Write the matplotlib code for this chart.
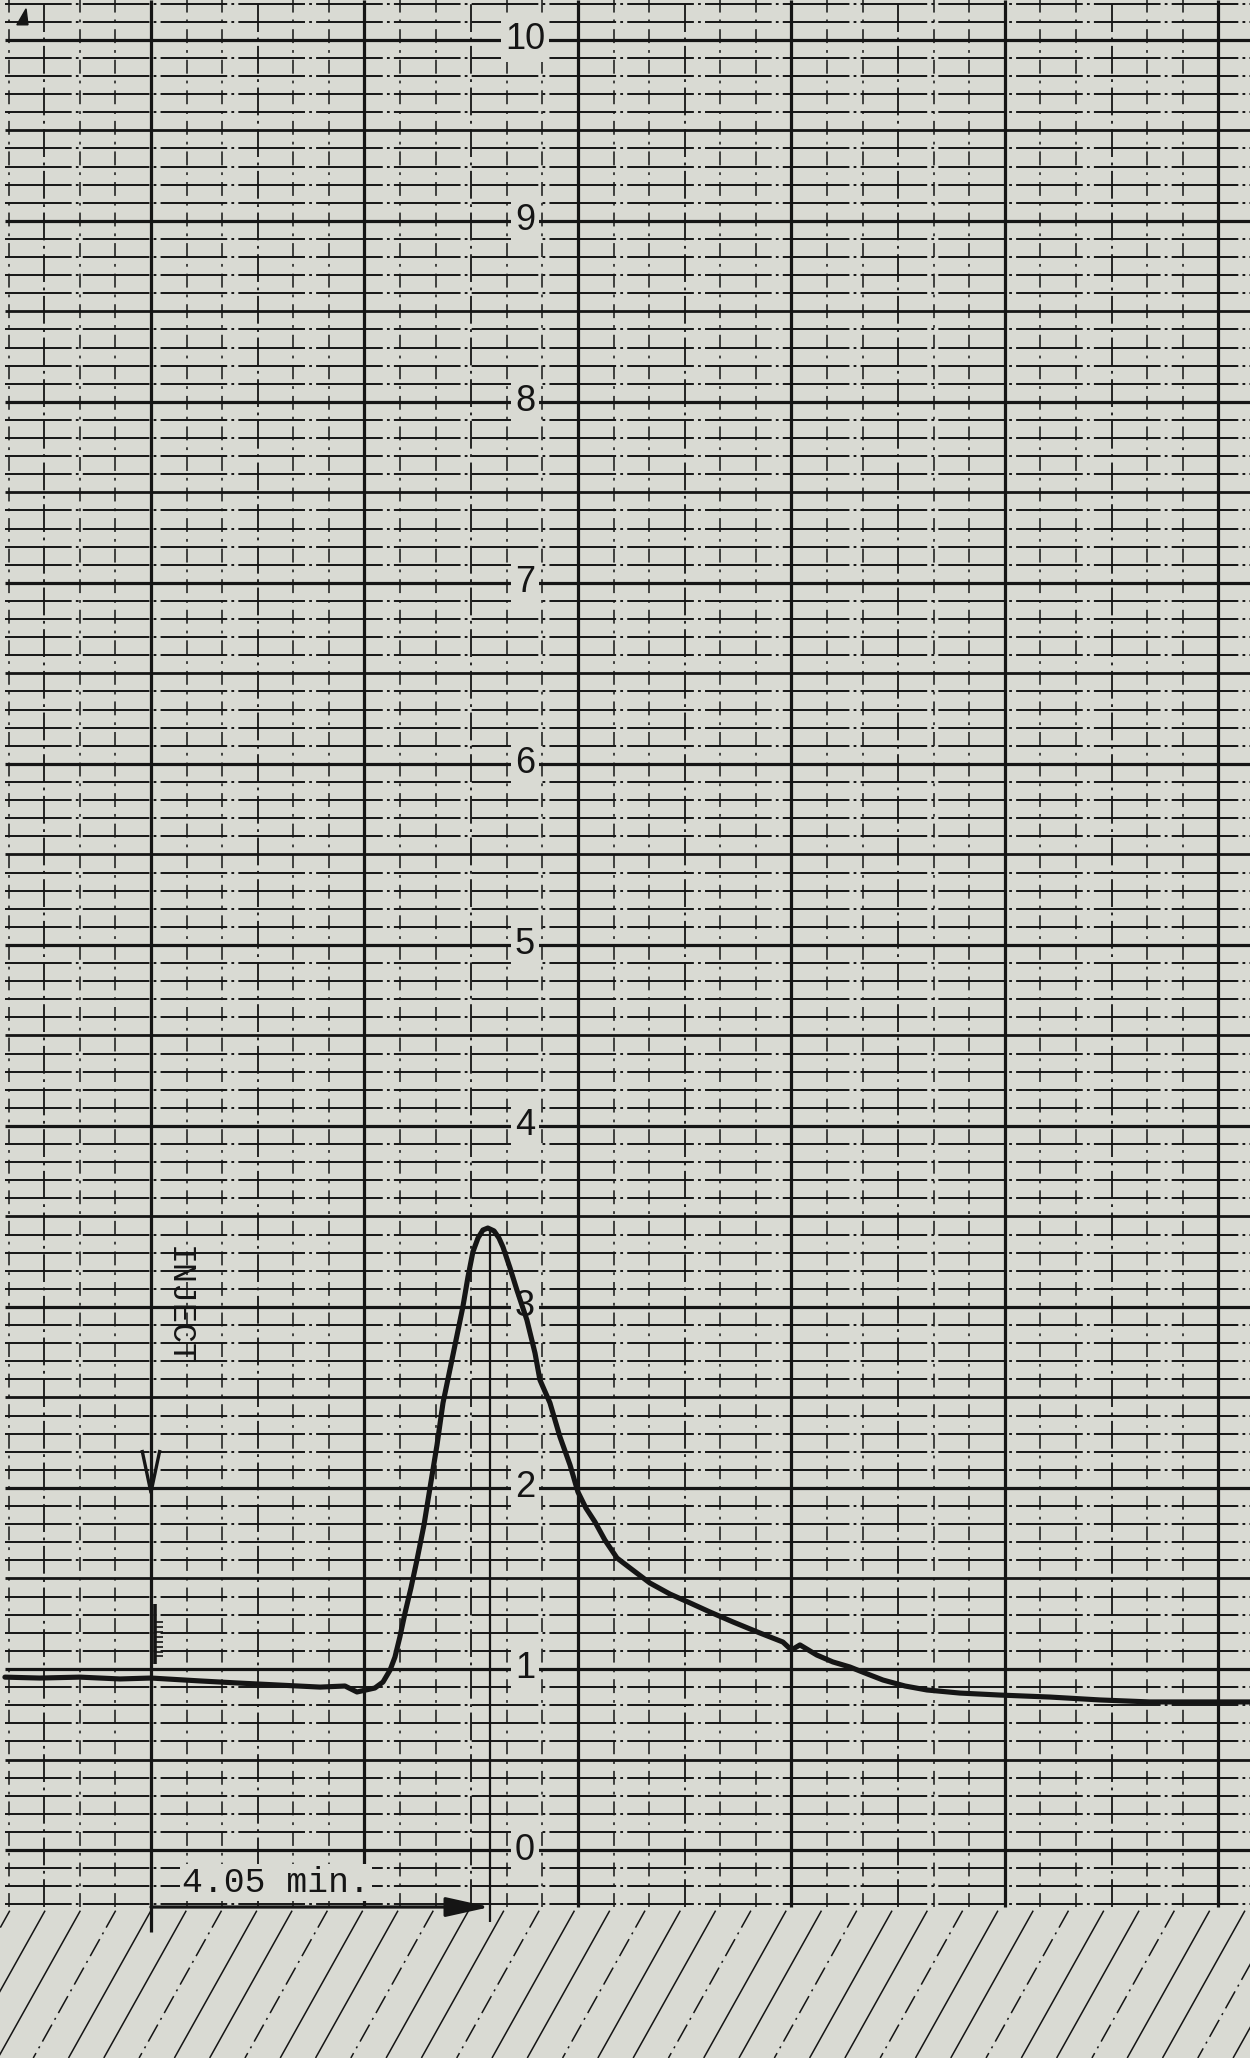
import numpy as np
import matplotlib.pyplot as plt
from matplotlib.patches import Polygon

plt.rcParams['lines.scale_dashes'] = False
plt.rcParams['lines.solid_capstyle'] = 'butt'

# chart paper units: x = major divisions from the INJECT line, y = recorder response (0-10)
trace_x = [-0.684, -0.520, -0.333, -0.145, 0.0, 0.230, 0.417, 0.604, 0.792, 0.909, 0.965, 1.049, 1.087,
           1.120, 1.143, 1.166, 1.190, 1.218, 1.246, 1.279, 1.307, 1.340, 1.368, 1.405, 1.461,
           1.485, 1.508, 1.532, 1.555, 1.578, 1.607, 1.630, 1.649, 1.682, 1.714, 1.761, 1.799, 1.822,
           1.869, 1.916, 1.963, 2.000, 2.037, 2.080, 2.126, 2.183, 2.244, 2.337, 2.431, 2.525, 2.618,
           2.726, 2.852, 2.960, 3.000, 3.040, 3.119, 3.194, 3.274, 3.344, 3.429, 3.532, 3.635, 3.789,
           3.977, 4.211, 4.445, 4.679, 4.913, 5.148]
trace_y = [0.955, 0.950, 0.955, 0.945, 0.950, 0.934, 0.922, 0.911, 0.900, 0.906, 0.873, 0.895, 0.928,
           0.994, 1.066, 1.177, 1.309, 1.448, 1.602, 1.796, 2.000, 2.238, 2.470, 2.680, 3.000,
           3.166, 3.304, 3.381, 3.425, 3.436, 3.420, 3.381, 3.331, 3.215, 3.094, 2.928, 2.745, 2.597,
           2.470, 2.282, 2.127, 1.978, 1.890, 1.812, 1.713, 1.613, 1.558, 1.475, 1.414, 1.365, 1.315,
           1.260, 1.199, 1.149, 1.105, 1.133, 1.077, 1.039, 1.011, 0.978, 0.939, 0.906, 0.884, 0.867,
           0.856, 0.845, 0.829, 0.818, 0.818, 0.818]

label_vals = [0, 1, 2, 3, 4, 5, 6, 7, 8, 9, 10]
label_x = 1.752

peak_x = 1.588
peak_y = 3.436
inject_tip = 1.975
event_ticks = [1.260, 1.232, 1.204, 1.177, 1.149, 1.122, 1.094, 1.072]

rt_text = '4.05 min.'
inject_text = 'INJECT'

XMIN, XMAX = -0.707, 5.148
YMIN, YMAX = -1.149, 10.22
GRID_BOTTOM = -0.315
GRID_LEFT = -0.684
HATCH_STEP = 0.1653
HATCH_SHIFT = 0.4743

BG = '#d9dad3'
INK = '#151515'

fig = plt.figure(figsize=(12.5, 20.58), dpi=100)
fig.patch.set_facecolor(BG)
ax = fig.add_axes([0, 0, 1, 1])
ax.set_facecolor(BG)
ax.set_xlim(XMIN, XMAX)
ax.set_ylim(YMIN, YMAX)
ax.axis('off')

# horizontal rules: every 0.1, heavier at 0.5 and 1
for i in range(-3, 103):
    y = i / 10
    if i % 10 == 0:
        lw, ls = 2.3, '-'
    elif i % 5 == 0:
        lw, ls = 2.0, '-'
    else:
        lw, ls = 1.4, (0, (48, 3, 2, 3))
    ax.plot([GRID_LEFT, XMAX], [y, y], color=INK, lw=lw, ls=ls, zorder=1)

# vertical rules: 6 per major division
for k in range(-4, 32):
    x = k / 6
    if k % 6 == 0:
        lw, ls = 2.3, '-'
    elif k % 3 == 0:
        lw, ls = 1.3, (0, (20, 4, 2, 4))
    else:
        lw, ls = 1.1, (0, (10, 5, 2, 5))
    ax.plot([x, x], [GRID_BOTTOM, YMAX], color=INK, lw=lw, ls=ls, zorder=1)

# hatched strip under the grid
for k in range(-4, 40):
    xt = k * HATCH_STEP
    ls = (0, (14, 4, 1.5, 4)) if k % 3 == 2 else '-'
    ax.plot([xt, xt - HATCH_SHIFT * (GRID_BOTTOM - 0.02 - YMIN)], [GRID_BOTTOM - 0.02, YMIN],
            color=INK, lw=1.1, ls=ls, zorder=1)

# response scale
for v in label_vals:
    ax.text(label_x, v, str(v), ha='center', va='center', fontsize=26, color=INK,
            family='Liberation Sans', zorder=3,
            bbox=dict(boxstyle='square,pad=0.12', fc=BG, ec='none'))

# recorder trace
ax.plot(trace_x, trace_y, color=INK, lw=3.7, solid_joinstyle='round', solid_capstyle='round', zorder=4)

# inject marker
ax.plot([0, 0], [GRID_BOTTOM, -0.453], color=INK, lw=2.3, zorder=4)
ax.plot([-0.042, 0, 0.042], [2.21, inject_tip, 2.21], color=INK, lw=2.4, zorder=4)
ax.plot([0.019, 0.019], [1.03, 1.36], color=INK, lw=2.6, zorder=4)
for ty in event_ticks:
    ax.plot([0.019, 0.055], [ty, ty], color=INK, lw=1.2, zorder=4)
ax.text(0.126, 3.006, inject_text, rotation=-90, ha='center', va='center', fontsize=24,
        family='Liberation Mono', color=INK, zorder=4)

# retention time
ax.plot([peak_x, peak_x], [-0.40, peak_y], color=INK, lw=1.6, zorder=4)
ax.annotate('', xy=(peak_x, GRID_BOTTOM), xytext=(0, GRID_BOTTOM),
            arrowprops=dict(arrowstyle='-|>,head_length=0.9,head_width=0.2', lw=2.3, color=INK,
                            mutation_scale=30, shrinkA=0, shrinkB=0), zorder=4)
ax.text(0.145, -0.232, rt_text, ha='left', va='baseline', fontsize=25,
        family='Liberation Mono', color=INK, zorder=4,
        bbox=dict(boxstyle='square,pad=0.05', fc=BG, ec='none'))

# corner mark
ax.add_patch(Polygon([(-0.628, 10.083), (-0.576, 10.083), (-0.585, 10.171)], closed=True,
                     fc=INK, ec=INK, zorder=4))

fig.savefig('out.png', dpi=100, facecolor=BG)
